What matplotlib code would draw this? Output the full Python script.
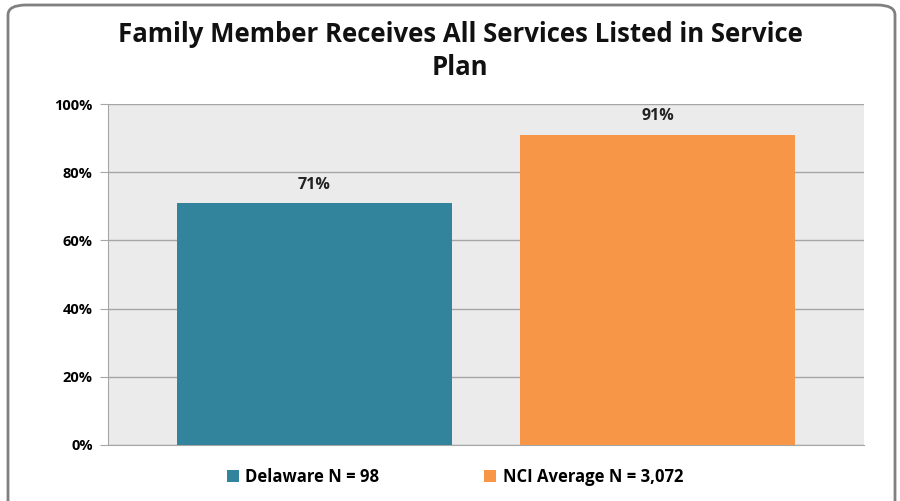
import matplotlib
matplotlib.use("Agg")
import matplotlib.pyplot as plt
from matplotlib.patches import FancyBboxPatch
import numpy as np

series_names = ["Delaware N = 98", "NCI Average N = 3,072"]
values = [71, 91]
colors = ["#31849B", "#F79646"]
yticks = [0, 20, 40, 60, 80, 100]
title = "Family Member Receives All Services Listed in Service\nPlan"

plt.rcParams["font.family"] = ["Open Sans", "DejaVu Sans"]

fig = plt.figure(figsize=(9, 5.01), dpi=100)
ax = fig.add_axes([108 / 900, 1 - 445 / 501, (864 - 108) / 900, (445 - 104) / 501])

# outer rounded frame
frame = FancyBboxPatch((8 / 900, -0.05), (895 - 8) / 900, (501 - 5) / 501 + 0.05,
                       boxstyle="round,pad=0,rounding_size=0.02",
                       transform=fig.transFigure, fill=False,
                       edgecolor="#808080", linewidth=2, zorder=0)
fig.patches.append(frame)

ax.set_facecolor("#EBEBEB")
x = np.arange(len(values))
bars = ax.bar(x, values, width=0.8, color=colors, label=series_names, zorder=3)
for xi, v in zip(x, values):
    ax.text(xi, v + 3, f"{v}%", ha="center", va="bottom",
            fontsize=11.5, fontweight="bold", color="#222222")

ax.set_xlim(-0.6, 1.6)
ax.set_ylim(0, 100)
ax.set_yticks(yticks)
ax.set_yticklabels([f"{t}%" for t in yticks], fontsize=10.5, fontweight="bold")
ax.set_xticks([])
ax.grid(axis="y", color="#A6A6A6", linewidth=1, zorder=1)
ax.tick_params(axis="y", length=6, color="#A6A6A6", pad=5)
for s in ["top", "right"]:
    ax.spines[s].set_visible(False)
ax.spines["left"].set_color("#A6A6A6")
ax.spines["bottom"].set_color("#A6A6A6")

fig.text(460 / 900, 1 - 51 / 501, title, ha="center", va="center",
         fontsize=18.5, fontweight="bold", linespacing=1.25, color="#111111")

leg = fig.legend(handles=bars, labels=series_names, loc="center",
                 bbox_to_anchor=(455 / 900, 1 - 477 / 501), ncol=2,
                 frameon=False, prop={"size": 12, "weight": "bold"},
                 handlelength=0.7, handleheight=0.7, columnspacing=6.3,
                 handletextpad=0.4)

fig.savefig("out.png", dpi=100)
